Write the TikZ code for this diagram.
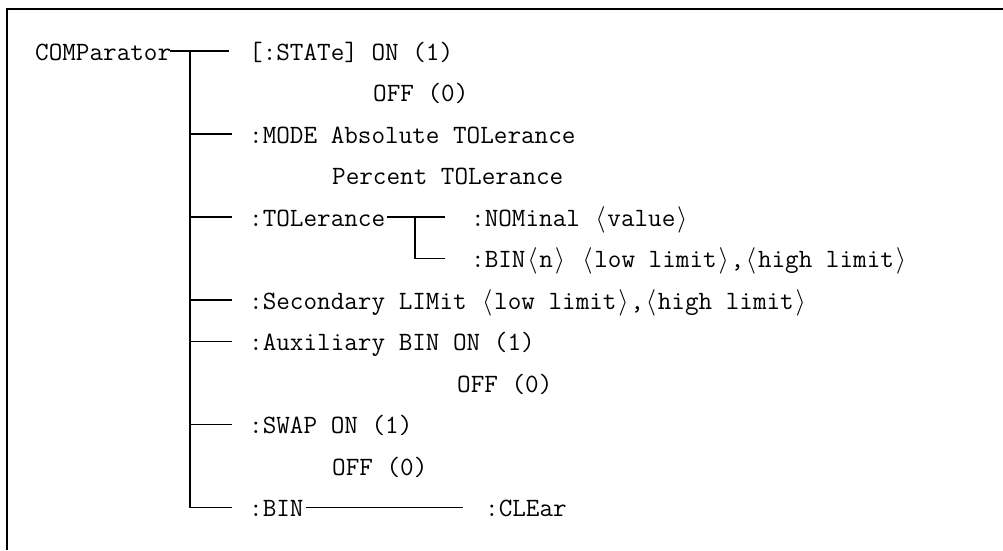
\RequirePackage{fix-cm}
\documentclass[tikz,border=0pt]{standalone}
\usepackage{fontspec}
\newcommand\myla{\makebox[0.525em]{$\langle$}}
\newcommand\myra{\makebox[0.525em]{$\rangle$}}
\begin{document}
\begin{tikzpicture}[x=1pt,y=-1pt,
  txt/.style={inner sep=0pt, anchor=base west, font=\ttfamily\fontsize{26.4}{30}\selectfont},
  conn/.style={line width=1.6pt},
  frame/.style={line width=2pt}]
\useasboundingbox (0,0) rectangle (1003,550);
\draw[frame] (7,550) -- (7,9) -- (1003,9);
% row line positions
\foreach \i in {1,...,12}{\coordinate (r\i) at (190,{51+(\i-1)*41.5});}
\def\bo{9}
% texts
\node[txt] (comp)  at (35,{51+\bo}) {COMParator};
\node[txt] (state) at (249,{51+\bo}) {[:STATe] ON (1)};
\node[txt] (stoff) at (373,{92.5+\bo}) {OFF (0)};
\node[txt] (mode)  at (249,{134+\bo}) {:MODE Absolute TOLerance};
\node[txt] (perc)  at (332,{175.5+\bo}) {Percent TOLerance};
\node[txt] (tol)   at (249,{217+\bo}) {:TOLerance};
\node[txt] (nom)   at (471,{217+\bo}) {:NOMinal \myla value\myra};
\node[txt] (binn)  at (471,{258.5+\bo}) {:BIN\myla n\myra\ \myla low limit\myra,\myla high limit\myra};
\node[txt] (sec)   at (249,{300+\bo}) {:Secondary LIMit \myla low limit\myra,\myla high limit\myra};
\node[txt] (aux)   at (249,{341.5+\bo}) {:Auxiliary BIN ON (1)};
\node[txt] (auxoff) at (457,{383+\bo}) {OFF (0)};
\node[txt] (swap)  at (249,{424.5+\bo}) {:SWAP ON (1)};
\node[txt] (swoff) at (332,{466+\bo}) {OFF (0)};
\node[txt] (bin)   at (249,{507.5+\bo}) {:BIN};
\node[txt] (clr)   at (485,{507.5+\bo}) {:CLEar};
% trunk
\draw[conn] (r1) -- (r12);
\draw[conn, shorten <=-1pt, shorten >=20pt] (comp.east |- r1) -- (r1 -| state.west);
\foreach \i/\n in {3/mode,5/tol,7/sec,8/aux,10/swap,12/bin}{
  \draw[conn, shorten >=17pt] (r\i) -- (r\i -| \n.west);
}
% TOLerance sub-branch
\coordinate (tj) at (415,217);
\coordinate (tj2) at (415,258.5);
\draw[conn, shorten <=2pt, shorten >=26pt] (tol.east |- tj) -- (tj -| nom.west);
\draw[conn] (tj) -- (tj2);
\draw[conn, shorten >=26pt] (tj2) -- (tj2 -| binn.west);
% BIN line
\draw[conn, shorten <=2pt, shorten >=22pt] (bin.east |- r12) -- (r12 -| clr.west);
\end{tikzpicture}
\end{document}
